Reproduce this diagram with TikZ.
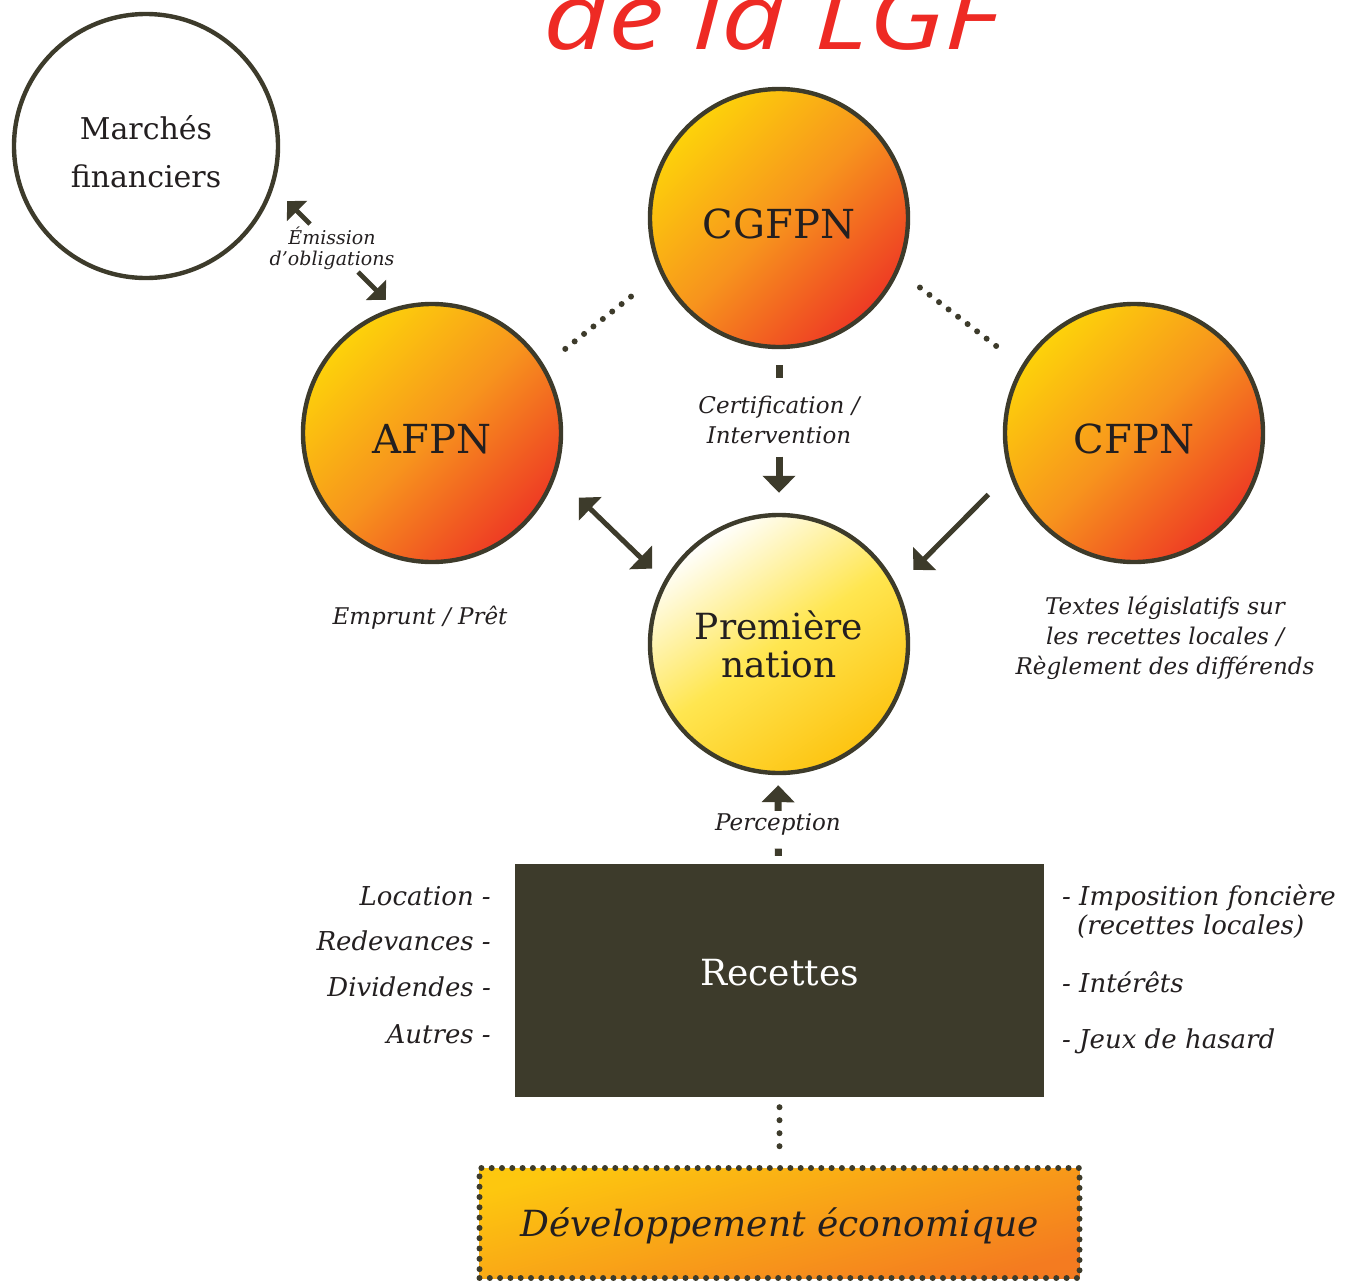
\documentclass[tikz,border=0pt]{standalone}
\usepackage{fontspec}
\setmainfont{DejaVu Serif}
\newfontfamily\titlefont{Open Sans}
\usetikzlibrary{arrows.meta,calc,positioning}
\definecolor{LGFDark}{HTML}{3D3B2B}
\definecolor{LGFInk}{HTML}{231F20}
\definecolor{LGFRed}{HTML}{EE2A24}
\definecolor{LGFYellow}{HTML}{FDD20A}
\definecolor{LGFOrange}{HTML}{F7941D}
\definecolor{LGFDeep}{HTML}{EE3A24}
\definecolor{LGFGold}{HTML}{FDC412}
\definecolor{LGFLemon}{HTML}{FFE650}
\definecolor{LGFAmber}{HTML}{FDC70F}
\definecolor{LGFTangerine}{HTML}{F47B20}

\begin{document}
\begin{tikzpicture}[x=.5pt,y=-.5pt,line width=2.2pt,
 every node/.style={inner sep=0pt,text=LGFInk},
 orb/.style={circle,draw=LGFDark,line width=2.2pt,minimum size=129pt,align=center},
 hotorb/.style={orb,top color=LGFYellow,bottom color=LGFDeep,middle color=LGFOrange,
  shading angle=45,text height=20.5pt,text depth=0pt,font=\fontsize{20}{24}\selectfont},
 lbl/.style={font=\itshape\fontsize{11.5}{15}\selectfont,align=center},
 listlbl/.style={font=\itshape\fontsize{13}{15}\selectfont},
 dots/.style={draw=LGFDark,line width=3pt,line cap=round,dash pattern=on 0pt off 6pt},
 stub/.style={draw=LGFDark,line width=3.5pt},
 bigarrow/.style={draw=LGFDark,line width=3.5pt,-{Triangle[width=16pt,length=8.5pt]}},
 duoarrow/.style={draw=LGFDark,line width=2.5pt,
  {Triangle[width=16pt,length=8pt]}-{Triangle[width=16pt,length=8pt]}},
 onearrow/.style={draw=LGFDark,line width=2.5pt,-{Triangle[width=16pt,length=8pt]}},
 midarrow/.style={draw=LGFDark,line width=2.4pt,-{Triangle[width=14pt,length=7pt]}}]
\clip (0,0) rectangle (1349,1280);

% titre
\node[font=\titlefont\itshape\fontsize{46}{50}\selectfont,text=LGFRed,anchor=base] (title) at (771,49)
 {\scalebox{1.22}[1]{de la LGF}};

% cercles
\node[orb,fill=white,minimum size=132pt,font=\fontsize{15}{24}\selectfont] (marches) at (146,146)
 {\rule{0pt}{18pt}Marchés\\financiers};
\node[hotorb] (cgfpn) at (779,218) {CGFPN};
\node[hotorb] (afpn) at (432,433) {AFPN};
\node[hotorb] (cfpn) at (1134,433) {CFPN};
\node[orb,top color=white,bottom color=LGFGold,middle color=LGFLemon,shading angle=35,
 font=\fontsize{18}{19}\selectfont] (pn) at (779,644) {Première\\nation};

% boites
\node[fill=LGFDark,minimum width=264.5pt,minimum height=116.5pt,text=white,text depth=8pt,
 font=\fontsize{18}{24}\selectfont] (recettes) at (779.5,980.5) {Recettes};
\node[minimum width=300pt,minimum height=55pt,top color=LGFAmber,bottom color=LGFTangerine,
 shading angle=15,draw=LGFDark,line width=3pt,line cap=round,dash pattern=on 0pt off 5.15pt,
 text height=17pt,font=\itshape\fontsize{18}{24}\selectfont] (devel) at (779.5,1223) {Développement économique};

% etiquettes
\node[lbl,font=\itshape\fontsize{9.5}{10.5}\selectfont] (emis) at (332,248) {Émission\\d’obligations};
\node[lbl] (certif) at (779,420) {Certification /\\Intervention};
\node[lbl] (emprunt) at (420,618) {Emprunt / Prêt};
\node[lbl] (textes) at (1165,638) {Textes législatifs sur\\les recettes locales /\\Règlement des différends};
\node[lbl] (percep) at (778,824) {Perception};

\foreach \t/\y [count=\i] in {Location/895,Redevances/940,Dividendes/986,Autres/1033}
 \node[listlbl,anchor=base east] (left\i) at (493,\y+10) {\t\ -};
\node[listlbl,anchor=base west] (right1) at (1060,905) {- Imposition foncière};
\node[listlbl,anchor=base west] (right1b) at (1075,934) {(recettes locales)};
\node[listlbl,anchor=base west] (right2) at (1060,992) {- Intérêts};
\node[listlbl,anchor=base west] (right3) at (1060,1048) {- Jeux de hasard};

% liens
\draw[dots,shorten <=13.3pt,shorten >=13.3pt] (afpn.31) -- (cgfpn.-155.6);
\draw[dots,shorten <=13.3pt,shorten >=13.3pt] (cgfpn.-24.4) -- (cfpn.149);
\draw[stub,shorten <=8pt,shorten >=7.75pt] (cgfpn) -- (certif);
\draw[bigarrow,shorten <=5.25pt,shorten >=10pt] (certif) -- (pn);
\draw[duoarrow,shorten <=15.8pt,shorten >=8.5pt] (afpn.-19) -- (pn.151);
\draw[onearrow,shorten <=14.8pt,shorten >=11.7pt] (cfpn.198) -- (pn.26.7);
\coordinate (emisUp) at ($(emis)+(-22,-24)$);
\coordinate (emisDown) at ($(emis)+(26,24)$);
\draw[midarrow,shorten >=9.6pt] (emisUp) -- (marches.-18);
\draw[midarrow,shorten >=5.5pt] (emisDown) -- (afpn.107);
\draw[bigarrow,shorten >=5pt] (percep) -- (pn);
\draw[stub,shorten <=5.75pt,shorten >=3pt] (percep) -- (recettes);
\draw[dots,dash pattern=on 0pt off 6.5pt,shorten <=4pt,shorten >=5pt] (recettes) -- (devel);
\end{tikzpicture}
\end{document}
